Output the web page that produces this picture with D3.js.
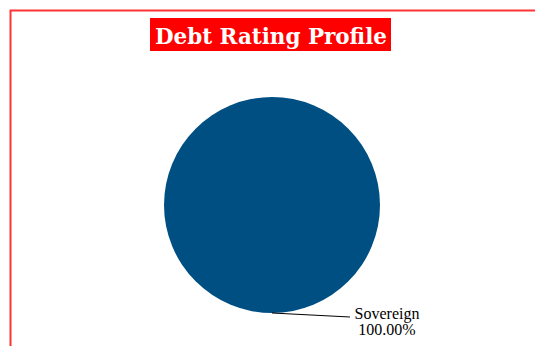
<!DOCTYPE html>
<html lang="en">
<head>
<meta charset="utf-8">
<title>Debt Rating Profile</title>
<script src="https://cdn.jsdelivr.net/npm/d3@7/dist/d3.min.js"></script>
<style>
  body { margin: 0; background: #fff; }
  svg { display: block; }
</style>
</head>
<body>
<script>
// chart data
const categories = ["Sovereign"];
const shares = [100];
const colors = ["#004f83"];

const w = 535, h = 346;
const svg = d3.select("body").append("svg")
  .attr("width", w)
  .attr("height", h);

// red frame (top + left edge visible)
svg.append("path")
  .attr("d", "M10.5," + h + " V10.5 H" + w)
  .attr("fill", "none")
  .attr("stroke", "#ff3333")
  .attr("stroke-width", 2);

// title box
const title = svg.append("g");
title.append("rect")
  .attr("x", 150).attr("y", 18)
  .attr("width", 241).attr("height", 33)
  .attr("fill", "#ff0000");
const titleText = title.append("text")
  .attr("x", 271)
  .attr("y", 44)
  .attr("text-anchor", "middle")
  .attr("fill", "#fff")
  .style("font-family", "'DejaVu Serif', serif")
  .style("font-weight", "bold")
  .style("font-size", "22px")
  .text("Debt Rating Profile");
// fit text to box width
titleText.attr("textLength", 232).attr("lengthAdjust", "spacingAndGlyphs");

// pie
const cx = 272, cy = 205, r = 108;
const data = categories.map((c, i) => ({ name: c, value: shares[i], color: colors[i] }));
const pie = d3.pie().value(d => d.value).sort(null);
const arc = d3.arc().innerRadius(0).outerRadius(r);

const g = svg.append("g").attr("transform", "translate(" + cx + "," + cy + ")");
const arcs = pie(data);

g.selectAll("path.slice")
  .data(arcs)
  .enter()
  .append("path")
  .attr("class", "slice")
  .attr("d", arc)
  .attr("fill", d => d.data.color);

// leader lines + labels
arcs.forEach(function(d) {
  const mid = (d.startAngle + d.endAngle) / 2;
  const x0 = Math.sin(mid) * r, y0 = -Math.cos(mid) * r;
  const x1 = x0 + 78, y1 = y0 + 4;
  g.append("line")
    .attr("x1", x0).attr("y1", y0)
    .attr("x2", x1).attr("y2", y1)
    .attr("stroke", "#000")
    .attr("stroke-width", 1);
  const lx = x1 + 37;
  const lbl = g.append("text")
    .attr("x", lx)
    .attr("y", y1 + 2)
    .attr("text-anchor", "middle")
    .style("font-family", "'Liberation Serif', 'Times New Roman', serif")
    .style("font-size", "16px")
    .attr("fill", "#000");
  lbl.append("tspan").attr("x", lx).attr("dy", 0).text(d.data.name);
  lbl.append("tspan").attr("x", lx).attr("dy", 16).text(d.data.value.toFixed(2) + "%");
});
</script>
</body>
</html>
